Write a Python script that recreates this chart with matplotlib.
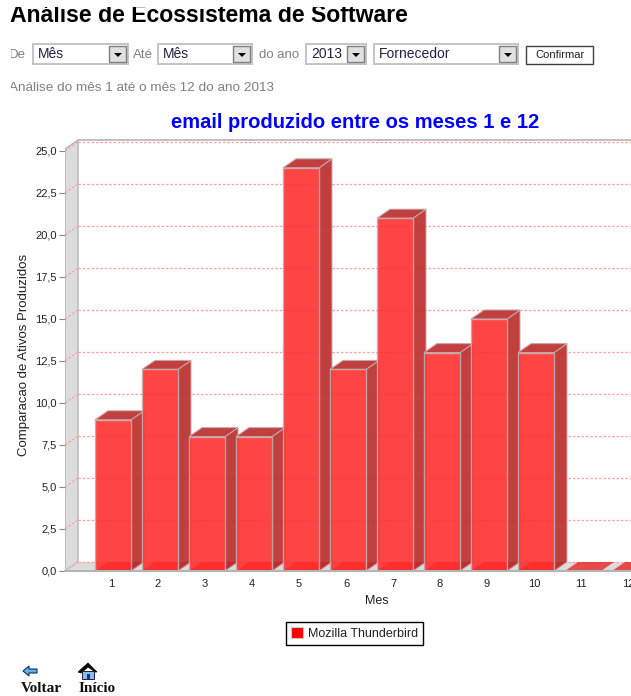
import matplotlib
matplotlib.use("Agg")
import matplotlib.pyplot as plt
from matplotlib.patches import Patch, Polygon, Rectangle
from matplotlib.transforms import ScaledTranslation

plt.rcParams["font.family"] = ["Liberation Sans", "DejaVu Sans"]

meses = [1, 2, 3, 4, 5, 6, 7, 8, 9, 10, 11, 12]
ativos = [9, 12, 8, 8, 24, 12, 21, 13, 15, 13, 0, 0]
y_ticks = [0, 2.5, 5, 7.5, 10, 12.5, 15, 17.5, 20, 22.5, 25]
y_labels = ["0,0", "2,5", "5,0", "7,5", "10,0", "12,5", "15,0", "17,5", "20,0", "22,5", "25,0"]
serie = "Mozilla Thunderbird"

W, H = 631, 696
PX_X = 47.0   # pixels per category
PX_Y = 16.8   # pixels per unit
DX = 13 / PX_X
DY = 9 / PX_Y
BAR_W = 36 / PX_X

fig = plt.figure(figsize=(W / 100, H / 100), dpi=100, facecolor="white")

# plot area, in page pixels
left, right, top, bottom = 65, 631, 140, 571
ax = fig.add_axes([left / W, 1 - bottom / H, (right - left) / W, (bottom - top) / H])
ax.set_xlim((left - 113) / PX_X + 1, (right - 113) / PX_X + 1)
ax.set_ylim(0, (bottom - top) / PX_Y)
x0, x1 = ax.get_xlim()
y1 = ax.get_ylim()[1]

for s in ax.spines.values():
    s.set_visible(False)

# walls
wall = "#dcdcdc"
edge = "#b4b4b4"
ax.add_patch(Polygon([(x0, 0), (x0 + DX, DY), (x0 + DX, y1), (x0, y1 - DY)], fc=wall, ec=edge, lw=1, zorder=1))
ax.add_patch(Polygon([(x0, 0), (x0 + DX, DY), (x1, DY), (x1, 0)], fc=wall, ec="none", zorder=1))
ax.plot([x0 + DX, x1], [y1, y1], color=edge, lw=1.2, zorder=1, clip_on=False)
ax.plot([x0, x1], [0, 0], color=edge, lw=1.5, zorder=6, clip_on=False)

# dashed grid on the back wall and the wall side
for v in y_ticks:
    ax.plot([x0 + DX, x1], [v + DY, v + DY], color="#ff9f9f", lw=0.9, ls=(0, (2, 1.5)), zorder=2)
    ax.plot([x0, x0 + DX], [v, v + DY], color="#ff9f9f", lw=0.9, ls=(0, (2, 1.5)), zorder=2)

# bars, base faces first then left to right
for i, (m, v) in enumerate(zip(meses, ativos)):
    z = 3 + i * 0.1
    a, b = m - BAR_W / 2, m + BAR_W / 2
    ax.add_patch(Polygon([(a, 0), (b, 0), (b + DX, DY), (a + DX, DY)], fc="#e83030", alpha=0.85, ec="none", zorder=z))
    if v > 0:
        ax.add_patch(Polygon([(b, 0), (b + DX, DY), (b + DX, v + DY), (b, v)],
                             fc="#bb2a2a", alpha=0.9, ec="#c8a8a8", lw=0.8, zorder=z))
        ax.add_patch(Polygon([(a, v), (b, v), (b + DX, v + DY), (a + DX, v + DY)],
                             fc="#bb2a2a", alpha=0.9, ec="#c8a8a8", lw=0.8, zorder=z))
        ax.bar(m, v, width=BAR_W, color="#ff2a2a", alpha=0.88, edgecolor="#c0b0b0", linewidth=1.0, zorder=z + 0.05)

ax.set_xticks(meses)
ax.set_xticklabels(meses, fontsize=8, color="#222222")
ax.set_yticks(y_ticks)
ax.set_yticklabels(y_labels, fontsize=8, color="#222222")
ax.tick_params(axis="x", length=0, pad=6)
ax.tick_params(axis="y", length=4, width=0.8, color="#888888", pad=2)
# labels sit a little left of the bar centres in the reference
shift = ScaledTranslation(-2 / 100, 0, fig.dpi_scale_trans)
for lab in ax.get_xticklabels():
    lab.set_transform(lab.get_transform() + shift)
ax.set_xlabel("Mes", fontsize=9, color="#222222")
ax.xaxis.set_label_coords((377 - left) / (right - left), -(595 - bottom) / (bottom - top))
ax.set_ylabel("Comparacao de Ativos Produzidos", fontsize=9.5, color="#222222")
ax.yaxis.set_label_coords((30 - left) / (right - left), (bottom - 355) / (bottom - top))

handle = Patch(fc="#ff0000", ec="#c8c8c8", lw=0.8, label=serie)
leg = fig.legend(handles=[handle], loc="center", bbox_to_anchor=(354.5 / W, 1 - 633.5 / H), fontsize=9,
                 fancybox=False, framealpha=1, edgecolor="black", handlelength=0.9, handleheight=0.9,
                 handletextpad=0.4, borderpad=0.4, labelcolor="#222222")
leg.get_frame().set_linewidth(1.0)

# page around the chart, drawn in pixel coordinates
pg = fig.add_axes([0, 0, 1, 1], facecolor="none", zorder=5)
pg.set_xlim(0, W)
pg.set_ylim(H, 0)
pg.axis("off")


def select(x, w, label, y=44, h=20):
    pg.add_patch(Rectangle((x, y), w, h, fc="white", ec="#c4c4c4", lw=1.4))
    pg.add_patch(Rectangle((x + w - 19, y + 2), 17, h - 4, fc="#e0e0e0", ec="#808080", lw=1))
    pg.add_patch(Polygon([(x + w - 14, y + 9), (x + w - 6, y + 9), (x + w - 10, y + 13)], fc="black", ec="none"))
    pg.text(x + 5, y + h / 2 + 0.5, label, fontsize=10, va="center", color="#222244")


pg.text(10, 22, "Análise de Ecossistema de Software", fontsize=16.6, fontweight="bold", va="baseline", color="black")
pg.add_patch(Rectangle((0, 0), W, 7, fc="white", ec="none", zorder=4))

grey = "#808080"
pg.text(9, 54.5, "De", fontsize=9.5, color=grey, va="center")
select(33, 95, "Mês")
pg.text(133, 54.5, "Até", fontsize=9.5, color=grey, va="center")
select(158, 94, "Mês")
pg.text(259, 54.5, "do ano", fontsize=9.5, color=grey, va="center")
select(306, 60, "2013")
select(374, 144, "Fornecedor")
pg.add_patch(Rectangle((526, 46), 67, 18, fc="white", ec="#404040", lw=1.0))
pg.text(559.5, 55.5, "Confirmar", fontsize=8, ha="center", va="center", color="#222222")
pg.text(9, 88, "Análise do mês 1 até o mês 12 do ano 2013", fontsize=9.7, color=grey, va="center")
pg.add_patch(Rectangle((0, 40), 11, 60, fc="white", ec="none", zorder=4))
pg.add_patch(Rectangle((0, 5), 10, 20, fc="white", ec="none", zorder=4))

pg.text(355, 123, "email produzido entre os meses 1 e 12", fontsize=14.5, fontweight="bold",
        ha="center", va="center", color="#0000ff")

# back and home icons
pg.add_patch(Polygon([(23, 671), (29, 666), (29, 669), (37, 669), (37, 673), (29, 673), (29, 676)],
                     fc="#60b0f0", ec="#103060", lw=0.8))
pg.add_patch(Polygon([(78, 672), (88, 663), (97, 672), (95, 672), (88, 667), (81, 673)], fc="black", ec="black", lw=0.5))
pg.add_patch(Rectangle((82, 671), 12, 8, fc="#90b8e8", ec="#202040", lw=0.7))
pg.add_patch(Rectangle((87, 674), 3, 5, fc="#203080", ec="none"))
pg.text(21, 688, "Voltar", fontsize=11, fontweight="bold", family=["Liberation Serif"], va="center", color="#111111")
pg.text(79, 688, "Início", fontsize=11, fontweight="bold", family=["Liberation Serif"], va="center", color="#111111")

fig.savefig("out.png", dpi=100)
plt.close(fig)
